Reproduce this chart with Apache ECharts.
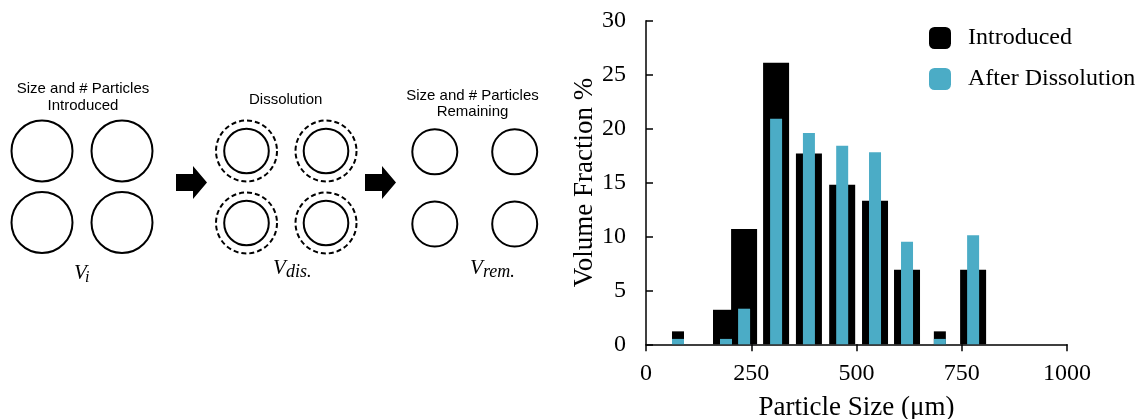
<!DOCTYPE html>
<html>
<head>
<meta charset="utf-8">
<script src="https://cdn.jsdelivr.net/npm/echarts@6/dist/echarts.min.js"></script>
<style>
html,body{margin:0;padding:0;background:#fff;}
#chart{width:1140px;height:419px;}
</style>
</head>
<body>
<div id="chart"></div>
<script>
// ---- data ----
const particleSizes = [76, 190, 233, 309, 387, 466, 544, 620, 698, 777];
const introduced = [1.2, 3.2, 10.7, 26.1, 17.7, 14.8, 13.3, 6.9, 1.2, 6.9];
const afterDissolution = [0.5, 0.5, 3.3, 20.9, 19.6, 18.4, 17.8, 9.5, 0.5, 10.1];
const seriesNames = ['Introduced', 'After Dissolution'];
const xTicks = [0, 250, 500, 750, 1000];
const yTicks = [0, 5, 10, 15, 20, 25, 30];
const diagramLabels = {
  introduced: ['Size and # Particles', 'Introduced'],
  dissolution: ['Dissolution'],
  remaining: ['Size and # Particles', 'Remaining']
};
// bins whose "Introduced" bar is drawn narrow in the original figure
const narrowIntroducedSizes = [76, 698];

const serif = '"Liberation Serif", "Times New Roman", serif';
const sans = '"Liberation Sans", Arial, sans-serif';

// ---- schematic (illustration) ----
const g = [];
function circ(cx, cy, r, dashed) {
  g.push({type: 'circle', silent: true, shape: {cx: cx, cy: cy, r: r},
    style: {fill: 'none', stroke: '#000', lineWidth: 2, lineDash: dashed ? [5, 3] : null}});
}
function txt(x, y, s, font, align) {
  g.push({type: 'text', silent: true, x: x, y: y,
    style: {text: s, font: font, fill: '#000', align: align || 'center', textAlign: align || 'center',
      verticalAlign: 'middle', textVerticalAlign: 'middle'}});
}
function arrow(x0) {
  const p = [[0, 174], [17, 174], [17, 166], [31, 182.5], [17, 199], [17, 191], [0, 191]].map(q => [q[0] + x0, q[1]]);
  g.push({type: 'polygon', silent: true, shape: {points: p}, style: {fill: '#000'}});
}
// group 1
[[42, 151], [122, 151], [42, 222.5], [122, 222.5]].forEach(c => circ(c[0], c[1], 30.5, false));
txt(83, 88.5, diagramLabels.introduced[0], '15px ' + sans);
txt(83, 106, diagramLabels.introduced[1], '15px ' + sans);
txt(74, 273, 'V', 'italic 21px ' + serif, 'left');
txt(85, 277.5, 'i', 'italic 16px ' + serif, 'left');
// arrow 1
arrow(176);
// group 2
[[246.5, 151], [326, 151], [246.5, 223], [326, 223]].forEach(c => { circ(c[0], c[1], 30.5, true); circ(c[0], c[1], 22.3, false); });
txt(285.7, 100, diagramLabels.dissolution[0], '15px ' + sans);
txt(273, 268.5, 'V', 'italic 21px ' + serif, 'left');
txt(286, 272.5, 'dis.', 'italic 18px ' + serif, 'left');
// arrow 2
arrow(365);
// group 3
[[434.8, 151.8], [514.7, 151.8], [434.8, 224], [514.7, 224]].forEach(c => circ(c[0], c[1], 22.5, false));
txt(472.5, 95.5, diagramLabels.remaining[0], '15px ' + sans);
txt(472.5, 111.5, diagramLabels.remaining[1], '15px ' + sans);
txt(470, 268.5, 'V', 'italic 21px ' + serif, 'left');
txt(483, 272.5, 'rem.', 'italic 18px ' + serif, 'left');

// ---- chart ----
const chart = echarts.init(document.getElementById('chart'), null, {renderer: 'canvas'});
const xMin = xTicks[0], xMax = xTicks[xTicks.length - 1];
const isNarrow = x => narrowIntroducedSizes.indexOf(x) >= 0;
const option = {
  animation: false,
  backgroundColor: '#fff',
  grid: {left: 646, top: 20.7, right: 73, bottom: 74.7, containLabel: false, outerBoundsMode: 'none'},
  legend: {
    data: seriesNames,
    orient: 'vertical', left: 929, top: 26, padding: 0,
    itemWidth: 22, itemHeight: 22, itemGap: 17, icon: 'roundRect',
    textStyle: {fontFamily: serif, fontSize: 24, color: '#000', padding: [0, 0, 0, 12]}
  },
  xAxis: [{
    type: 'value', min: xMin, max: xMax, interval: 250,
    name: 'Particle Size (\u03bcm)', nameLocation: 'middle', nameGap: 50,
    nameTextStyle: {fontFamily: serif, fontSize: 27, color: '#000'},
    axisLine: {show: true, onZero: false, lineStyle: {color: '#000', width: 1.5}},
    axisTick: {show: true, inside: false, length: 7, lineStyle: {color: '#000', width: 1.5}},
    axisLabel: {fontFamily: serif, fontSize: 24, color: '#000', margin: 17, formatter: v => String(v)},
    splitLine: {show: false}
  }, {
    type: 'value', min: xMin, max: xMax, show: false, position: 'bottom',
    splitLine: {show: false}
  }],
  yAxis: {
    type: 'value', min: yTicks[0], max: yTicks[yTicks.length - 1], interval: 5,
    name: 'Volume Fraction %', nameLocation: 'middle', nameGap: 47, nameRotate: 90,
    nameTextStyle: {fontFamily: serif, fontSize: 27, color: '#000'},
    axisLine: {show: true, lineStyle: {color: '#000', width: 1.5}},
    axisTick: {show: true, inside: true, length: 7, lineStyle: {color: '#000', width: 1.5}},
    axisLabel: {fontFamily: serif, fontSize: 24, color: '#000', margin: 20},
    splitLine: {show: false}
  },
  series: [
    {name: seriesNames[0], type: 'bar', xAxisIndex: 0, barWidth: 26,
      itemStyle: {color: '#000'},
      data: particleSizes.map((x, i) => isNarrow(x) ? [x, '-'] : [x, introduced[i]])},
    {name: seriesNames[0], type: 'bar', xAxisIndex: 1, barWidth: 12,
      itemStyle: {color: '#000'},
      data: particleSizes.map((x, i) => isNarrow(x) ? [x, introduced[i]] : [x, '-'])},
    {name: seriesNames[1], type: 'bar', xAxisIndex: 1, barWidth: 12, barGap: '-100%',
      itemStyle: {color: '#4BACC6'},
      data: particleSizes.map((x, i) => [x, afterDissolution[i]])}
  ],
  graphic: g
};
chart.setOption(option);
</script>
</body>
</html>
